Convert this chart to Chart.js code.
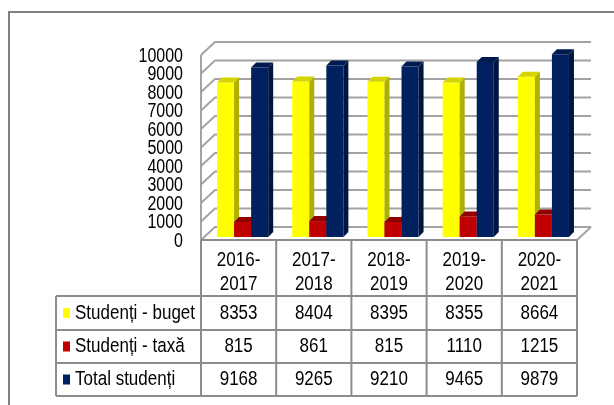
<!DOCTYPE html>
<html>
<head>
<meta charset="utf-8">
<script src="https://cdn.jsdelivr.net/npm/chart.js@4"></script>
<style>
  html, body { margin: 0; padding: 0; background: #fff; }
  canvas { display: block; }
</style>
</head>
<body>
<canvas id="studenti" width="614" height="405"></canvas>
<script>
// date
const categories = ['2016-2017', '2017-2018', '2018-2019', '2019-2020', '2020-2021'];
const seriesNames = ['Studenți - buget', 'Studenți - taxă', 'Total studenți'];
const buget = [8353, 8404, 8395, 8355, 8664];
const taxa = [815, 861, 815, 1110, 1215];
const total = [9168, 9265, 9210, 9465, 9879];
const yTicks = [0, 1000, 2000, 3000, 4000, 5000, 6000, 7000, 8000, 9000, 10000];

// culori: fata, lateral, sus
const faceColors = ['#ffff00', '#c00000', '#002060'];
const sideColors = ['#b0b000', '#800000', '#001640'];
const topColors = ['#d4d400', '#900000', '#001a4f'];

const WALL_DX = 14, WALL_DY = 13;   // adancimea peretilor
const SHIFT_X = 4, SHIFT_Y = 3;     // barele stau putin in spate
const BAR_D = 5;                    // adancimea barelor
const STRETCH = 1.23;               // textul e intins pe verticala

function stretchText(ctx, text, x, y, align, size) {
    ctx.save();
    ctx.translate(x, y);
    ctx.scale(1, STRETCH);
    ctx.font = size + 'px "Liberation Sans", Arial, sans-serif';
    ctx.textAlign = align;
    ctx.textBaseline = 'middle';
    ctx.fillStyle = '#000';
    ctx.fillText(text, 0, 0);
    ctx.restore();
}

function line(ctx, pts) {
    ctx.beginPath();
    ctx.moveTo(pts[0][0], pts[0][1]);
    for (let i = 1; i < pts.length; i++) ctx.lineTo(pts[i][0], pts[i][1]);
    ctx.stroke();
}

function poly(ctx, pts, color) {
    ctx.beginPath();
    ctx.moveTo(pts[0][0], pts[0][1]);
    for (let i = 1; i < pts.length; i++) ctx.lineTo(pts[i][0], pts[i][1]);
    ctx.closePath();
    ctx.fillStyle = color;
    ctx.fill();
}

const chart3d = {
    id: 'chart3d',
    beforeDatasetsDraw(chart) {
        const ctx = chart.ctx;
        const { left, right, top, bottom } = chart.chartArea;
        const y = chart.scales.y;

        // peretii si grila
        ctx.save();
        ctx.strokeStyle = '#a3a3a3';
        ctx.lineWidth = 2;
        yTicks.forEach(v => {
            const py = y.getPixelForValue(v);
            line(ctx, [[left, py], [left + WALL_DX, py - WALL_DY], [right + WALL_DX, py - WALL_DY]]);
        });
        line(ctx, [[left, top], [left, bottom]]);
        line(ctx, [[right, bottom], [right + WALL_DX, bottom - WALL_DY]]);
        ctx.restore();

        // barele 3D
        chart.data.datasets.forEach((ds, di) => {
            const meta = chart.getDatasetMeta(di);
            meta.data.forEach(bar => {
                const l = bar.x - bar.width / 2 + SHIFT_X;
                const r = bar.x + bar.width / 2 + SHIFT_X;
                const t = bar.y - SHIFT_Y;
                const b = bar.base - SHIFT_Y;
                poly(ctx, [[l, t], [r, t], [r, b], [l, b]], faceColors[di]);
                poly(ctx, [[r, t], [r + BAR_D, t - BAR_D], [r + BAR_D, b - BAR_D], [r, b]], sideColors[di]);
                poly(ctx, [[l, t], [l + BAR_D, t - BAR_D], [r + BAR_D, t - BAR_D], [r, t]], topColors[di]);
            });
        });
        return false;
    },
    afterDraw(chart) {
        const ctx = chart.ctx;
        const { left, right, bottom } = chart.chartArea;
        const x = chart.scales.x;
        const y = chart.scales.y;
        const catW = (right - left) / categories.length;

        // etichete axa Y
        yTicks.forEach(v => {
            stretchText(ctx, String(v), 183, y.getPixelForValue(v) + 1.5, 'right', 16);
        });

        // tabelul de date
        const tableLeft = 56;
        const rowLines = [296, 330, 363, 396];
        ctx.save();
        ctx.strokeStyle = '#8c8c8c';
        ctx.lineWidth = 2;
        line(ctx, [[left, bottom], [right, bottom]]);
        for (let i = 0; i <= categories.length; i++) {
            const px = left + i * catW;
            line(ctx, [[px, bottom], [px, rowLines[3]]]);
        }
        rowLines.forEach(ry => line(ctx, [[tableLeft, ry], [right, ry]]));
        line(ctx, [[tableLeft, rowLines[0]], [tableLeft, rowLines[3]]]);
        ctx.restore();

        categories.forEach((c, i) => {
            const cx = x.getPixelForValue(i);
            const parts = c.split('-');
            stretchText(ctx, parts[0] + '-', cx, 260, 'center', 17);
            stretchText(ctx, parts[1], cx, 284, 'center', 17);
        });

        chart.data.datasets.forEach((ds, di) => {
            const cy = (rowLines[di] + rowLines[di + 1]) / 2;
            ctx.fillStyle = faceColors[di];
            ctx.fillRect(63, cy - 5, 7, 10);
            stretchText(ctx, seriesNames[di], 75, cy, 'left', 17);
            ds.data.forEach((v, i) => {
                stretchText(ctx, String(v), x.getPixelForValue(i), cy, 'center', 17);
            });
        });

        // chenarul exterior
        ctx.save();
        ctx.strokeStyle = '#808080';
        ctx.lineWidth = 2;
        line(ctx, [[9, 405], [9, 12], [614, 12]]);
        ctx.restore();
    }
};

new Chart(document.getElementById('studenti'), {
    type: 'bar',
    data: {
        labels: categories,
        datasets: [
            { label: seriesNames[0], data: buget, backgroundColor: faceColors[0] },
            { label: seriesNames[1], data: taxa, backgroundColor: faceColors[1] },
            { label: seriesNames[2], data: total, backgroundColor: faceColors[2] }
        ]
    },
    options: {
        responsive: false,
        animation: false,
        devicePixelRatio: 1,
        categoryPercentage: 0.68,
        barPercentage: 1,
        layout: { padding: { left: 201, right: 37, top: 55, bottom: 165 } },
        plugins: { legend: { display: false }, tooltip: { enabled: false } },
        scales: {
            x: { display: false },
            y: { display: false, min: 0, max: 10000, ticks: { stepSize: 1000 } }
        }
    },
    plugins: [chart3d]
});
</script>
</body>
</html>
